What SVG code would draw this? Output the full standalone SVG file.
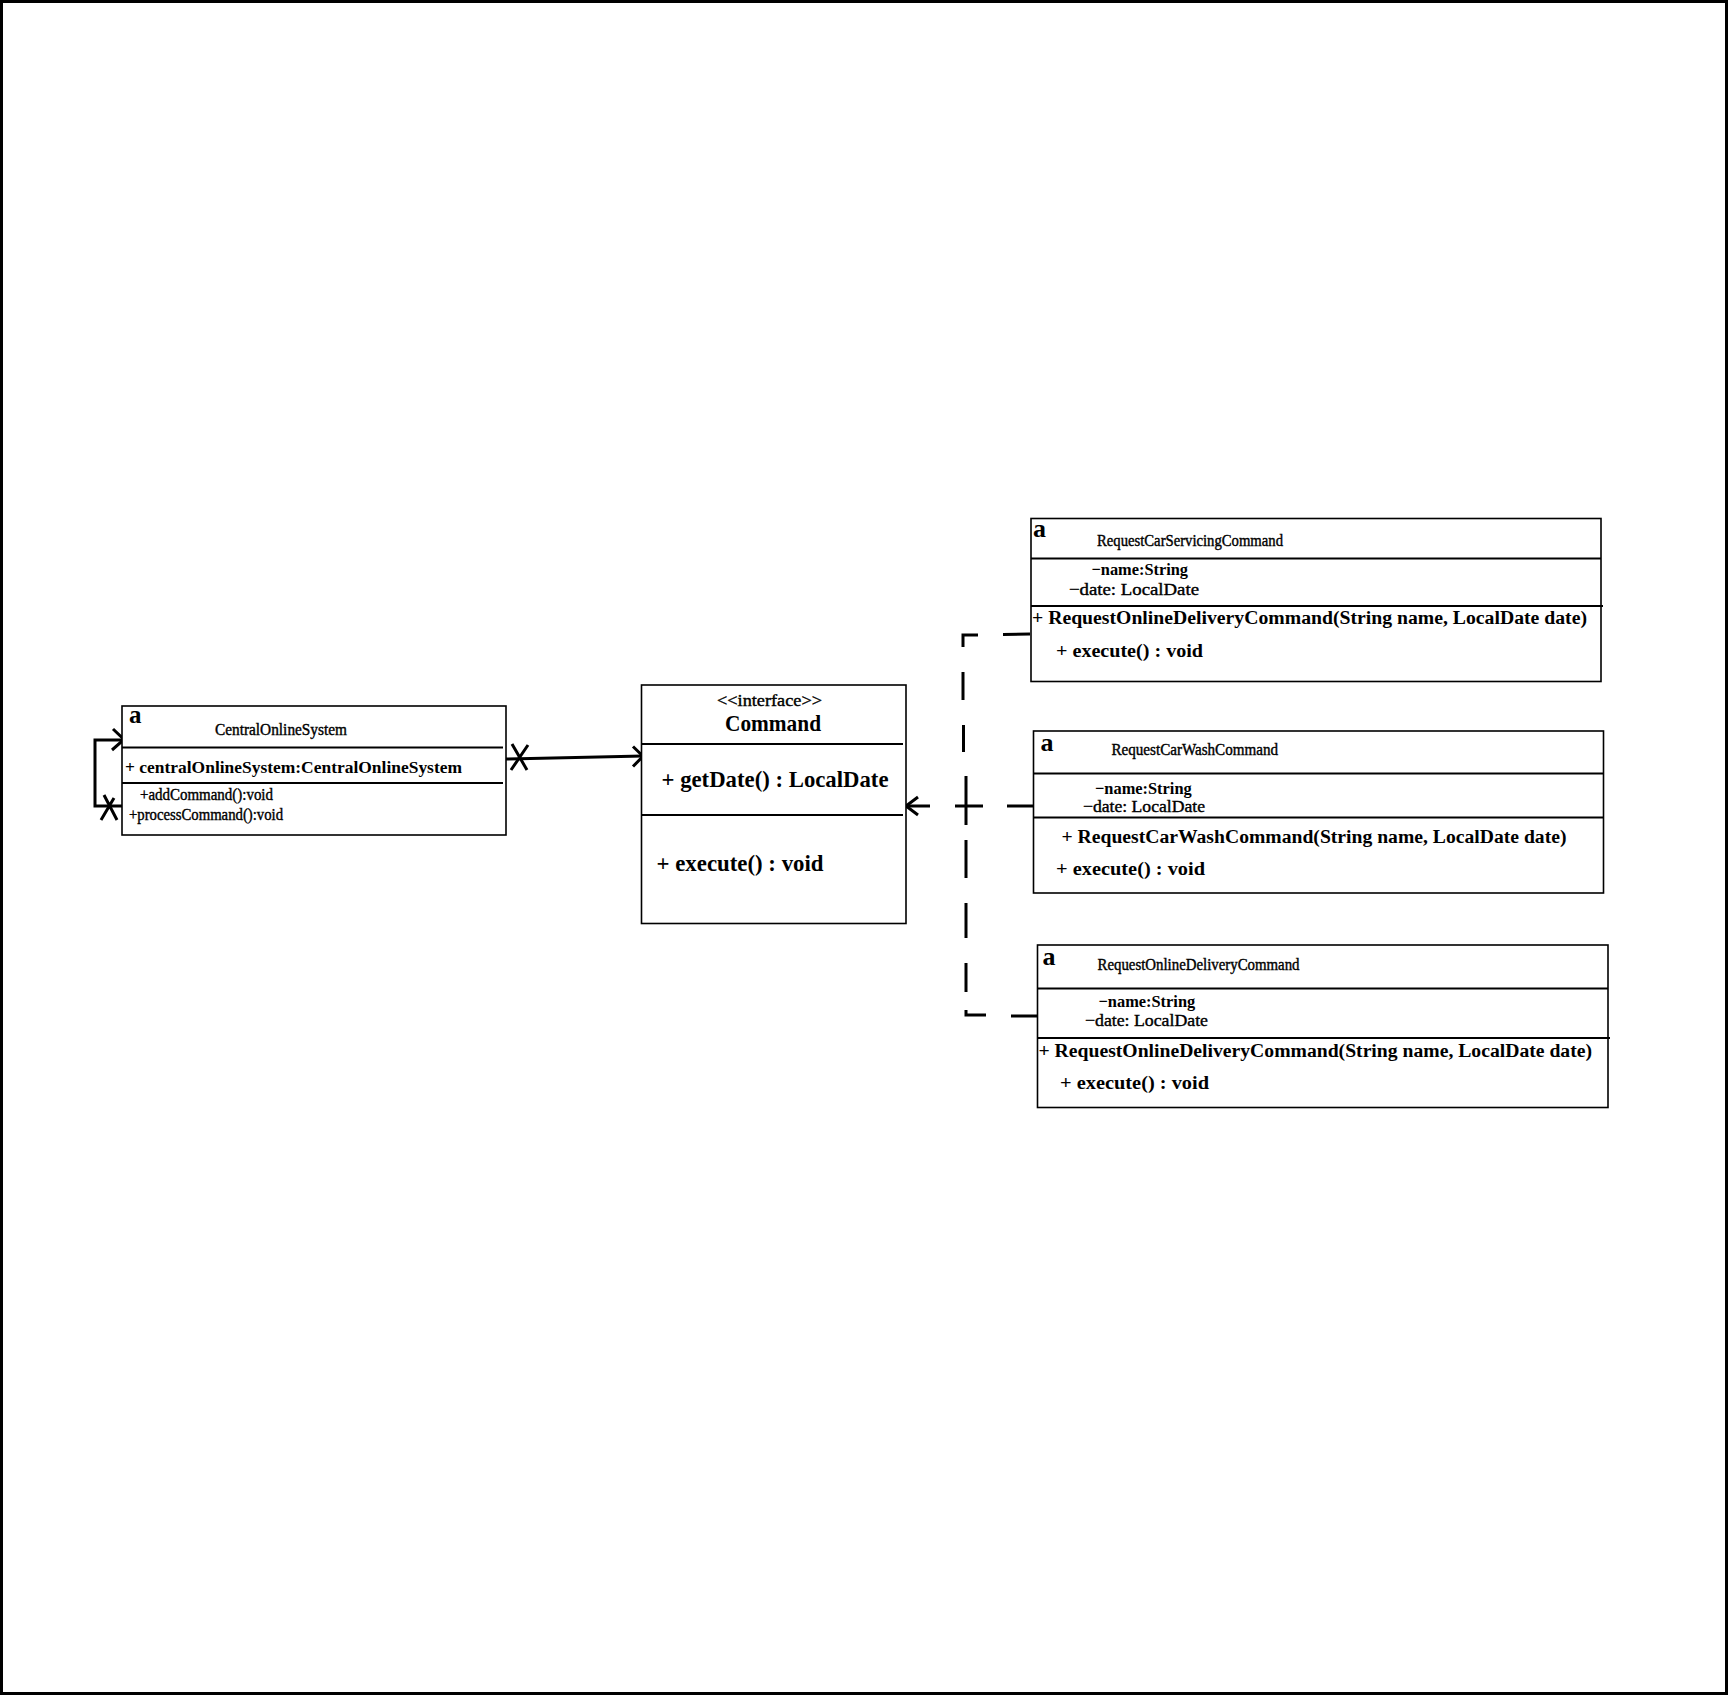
<svg xmlns="http://www.w3.org/2000/svg" width="1728" height="1695" viewBox="0 0 1728 1695">
<style>
text{font-family:"Liberation Serif","DejaVu Serif",serif;fill:#000}
.b{font-weight:bold}
.r{stroke:#000;stroke-width:0.4}
.box{fill:#fff;stroke:#000;stroke-width:1.6}
.sep{stroke:#000;stroke-width:2.2;fill:none}
.con{stroke:#000;stroke-width:3;fill:none;stroke-linecap:butt;stroke-linejoin:miter}
.ic{font-size:26px;font-weight:bold}
.nm{font-size:16px}
.at{font-size:17px}
.op{font-size:18px;font-weight:bold}
</style>
<rect x="1.5" y="1.5" width="1725" height="1692" fill="#fff" stroke="#000" stroke-width="3"/>

<g id="connectors">
  <!-- self association on CentralOnlineSystem -->
  <path class="con" d="M122,806 L95,806 L95,740 L123,740"/>
  <path class="con" d="M113,729 L124,739.5 L112,750"/>
  <path class="con" d="M104,795 L117,820 M114,798 L101,820"/>
  <!-- association CentralOnlineSystem -> Command -->
  <path class="con" d="M505,759 L643,756"/>
  <path class="con" d="M633,746.5 L643,756.3 L633,766.5"/>
  <path class="con" d="M512,744 L527,770 M528,745 L511,770"/>
  <!-- realization (dashed) to Command -->
  <path class="con" d="M1030,634 L1003,634.5 M978,635 L963,635 L963,647 M963,672 L963,700 M963.5,725 L963.5,752"/>
  <path class="con" d="M966,776 L966,825 M955,806 L983,806"/>
  <path class="con" d="M906,806 L930,806 M1007,806 L1035,806"/>
  <path class="con" d="M918,797 L906,806 L918,815"/>
  <path class="con" d="M966,840 L966,878 M966,903 L966,938 M966,963 L966,992 M966,1010 L966,1015 L986,1015 M1011,1016 L1038,1016"/>
</g>

<g id="central">
  <rect class="box" x="122" y="706" width="384" height="129"/>
  <line class="sep" x1="122" y1="747.5" x2="503" y2="747.5"/>
  <line class="sep" x1="122" y1="783" x2="503" y2="783"/>
  <text x="129" y="723" style="font-size:25px;font-weight:bold">a</text>
  <text class="nm r" x="215" y="735" textLength="132" lengthAdjust="spacingAndGlyphs">CentralOnlineSystem</text>
  <text class="b" x="125" y="773" style="font-size:16px" textLength="337" lengthAdjust="spacingAndGlyphs">+ centralOnlineSystem:CentralOnlineSystem</text>
  <text class="r" x="140" y="800" style="font-size:16px" textLength="133" lengthAdjust="spacingAndGlyphs">+addCommand():void</text>
  <text class="r" x="129" y="820" style="font-size:16px" textLength="154" lengthAdjust="spacingAndGlyphs">+processCommand():void</text>
</g>

<g id="command">
  <rect class="box" x="641.5" y="685" width="264.5" height="238.5"/>
  <line class="sep" x1="641.5" y1="744" x2="903" y2="744"/>
  <line class="sep" x1="641.5" y1="815" x2="903" y2="815"/>
  <text class="r" x="717" y="705.5" style="font-size:17px" textLength="105" lengthAdjust="spacingAndGlyphs">&lt;&lt;interface&gt;&gt;</text>
  <text class="b" x="725" y="731" style="font-size:23px" textLength="96" lengthAdjust="spacingAndGlyphs">Command</text>
  <text class="b" x="661.5" y="787" style="font-size:23px" textLength="227" lengthAdjust="spacingAndGlyphs">+ getDate() : LocalDate</text>
  <text class="b" x="656.5" y="871" style="font-size:23px" textLength="167" lengthAdjust="spacingAndGlyphs">+ execute() : void</text>
</g>

<g id="requestCarServicing">
  <rect class="box" x="1031" y="518.5" width="570" height="163"/>
  <line class="sep" x1="1031" y1="558.5" x2="1601" y2="558.5"/>
  <line class="sep" x1="1031" y1="606" x2="1603" y2="606"/>
  <text class="ic" x="1033" y="536.5">a</text>
  <text class="nm r" x="1097" y="546" textLength="186" lengthAdjust="spacingAndGlyphs">RequestCarServicingCommand</text>
  <text class="at b" x="1091.5" y="575" textLength="96.5" lengthAdjust="spacingAndGlyphs">−name:String</text>
  <text class="at r" x="1069" y="595" textLength="130" lengthAdjust="spacingAndGlyphs">−date: LocalDate</text>
  <text class="op" x="1032" y="624" textLength="555" lengthAdjust="spacingAndGlyphs">+ RequestOnlineDeliveryCommand(String name, LocalDate date)</text>
  <text class="op" x="1056" y="657" textLength="147" lengthAdjust="spacingAndGlyphs">+ execute() : void</text>
</g>

<g id="requestCarWash">
  <rect class="box" x="1033.5" y="731" width="570" height="162"/>
  <line class="sep" x1="1033.5" y1="773.5" x2="1603.5" y2="773.5"/>
  <line class="sep" x1="1033.5" y1="817.5" x2="1603.5" y2="817.5"/>
  <text class="ic" x="1040.5" y="750.5">a</text>
  <text class="nm r" x="1111.5" y="755" textLength="166.5" lengthAdjust="spacingAndGlyphs">RequestCarWashCommand</text>
  <text class="at b" x="1095" y="793.5" textLength="96.7" lengthAdjust="spacingAndGlyphs">−name:String</text>
  <text class="at r" x="1083" y="812" textLength="122" lengthAdjust="spacingAndGlyphs">−date: LocalDate</text>
  <text class="op" x="1061.5" y="843" textLength="505" lengthAdjust="spacingAndGlyphs">+ RequestCarWashCommand(String name, LocalDate date)</text>
  <text class="op" x="1056" y="875" textLength="149" lengthAdjust="spacingAndGlyphs">+ execute() : void</text>
</g>

<g id="requestOnlineDelivery">
  <rect class="box" x="1037.5" y="945" width="570.5" height="162.5"/>
  <line class="sep" x1="1037.5" y1="988.5" x2="1608" y2="988.5"/>
  <line class="sep" x1="1037.5" y1="1038" x2="1610" y2="1038"/>
  <text class="ic" x="1042.5" y="964.5">a</text>
  <text class="nm r" x="1097.5" y="970" textLength="202" lengthAdjust="spacingAndGlyphs">RequestOnlineDeliveryCommand</text>
  <text class="at b" x="1098.5" y="1006.5" textLength="96.7" lengthAdjust="spacingAndGlyphs">−name:String</text>
  <text class="at r" x="1085" y="1025.5" textLength="123" lengthAdjust="spacingAndGlyphs">−date: LocalDate</text>
  <text class="op" x="1038.5" y="1057" textLength="553.5" lengthAdjust="spacingAndGlyphs">+ RequestOnlineDeliveryCommand(String name, LocalDate date)</text>
  <text class="op" x="1060" y="1089" textLength="149" lengthAdjust="spacingAndGlyphs">+ execute() : void</text>
</g>
</svg>
